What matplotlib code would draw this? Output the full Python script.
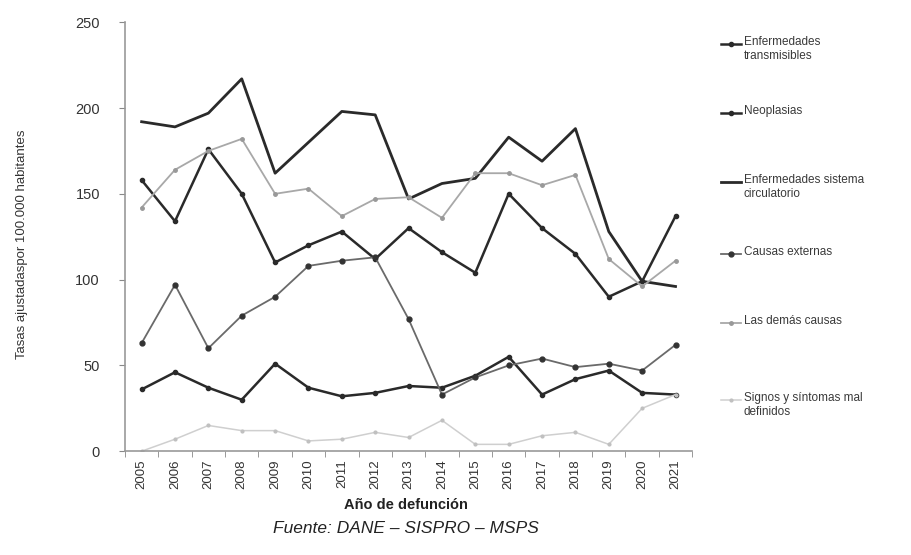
import matplotlib.pyplot as plt
from matplotlib.lines import Line2D

plt.rcParams["font.family"] = ["Liberation Sans", "DejaVu Sans"]

years = [str(y) for y in range(2005, 2022)]

transmisibles = [36, 46, 37, 30, 51, 37, 32, 34, 38, 37, 44, 55, 33, 42, 47, 34, 33]
neoplasias = [158, 134, 176, 150, 110, 120, 128, 112, 130, 116, 104, 150, 130, 115, 90, 99, 137]
circulatorio = [192, 189, 197, 217, 162, 180, 198, 196, 147, 156, 159, 183, 169, 188, 128, 99, 96]
externas = [63, 97, 60, 79, 90, 108, 111, 113, 77, 33, 43, 50, 54, 49, 51, 47, 62]
demas = [142, 164, 175, 182, 150, 153, 137, 147, 148, 136, 162, 162, 155, 161, 112, 96, 111]
signos = [0, 7, 15, 12, 12, 6, 7, 11, 8, 18, 4, 4, 9, 11, 4, 25, 33]

labels = [
    "Enfermedades\ntransmisibles",
    "Neoplasias",
    "Enfermedades sistema\ncirculatorio",
    "Causas externas",
    "Las demás causas",
    "Signos y síntomas mal\ndefinidos",
]

# (color, linewidth, marker, markersize, marker color)
styles = [
    ("#2a2a2a", 1.8, "o", 3, "#2a2a2a"),
    ("#2a2a2a", 1.8, "o", 3, "#2a2a2a"),
    ("#2a2a2a", 2.0, None, 0, "#2a2a2a"),
    ("#6a6a6a", 1.3, "o", 3.5, "#333333"),
    ("#a8a8a8", 1.3, "o", 2.5, "#999999"),
    ("#cfcfcf", 1.1, "o", 2, "#c0c0c0"),
]
series = [transmisibles, neoplasias, circulatorio, externas, demas, signos]

fig = plt.figure(figsize=(9.12, 5.55), dpi=100)
ax = fig.add_axes([0.137, 0.187, 0.622, 0.773])

x = list(range(len(years)))
for vals, (c, lw, m, ms, mc) in zip(series, styles):
    ax.plot(x, vals, color=c, linewidth=lw, marker=m, markersize=ms,
            markerfacecolor=mc, markeredgecolor=mc)

ax.set_xlim(-0.5, len(years) - 0.5)
ax.set_ylim(0, 250)
ax.set_yticks(range(0, 251, 50))
ax.set_xticks(x)
ax.set_xticklabels(years, rotation=90, fontsize=9.5, color="#333333")
ax.set_xticks([i - 0.5 for i in range(len(years) + 1)], minor=True)
ax.tick_params(axis="x", which="major", length=0, pad=6)
ax.tick_params(axis="x", which="minor", length=4, color="#888888", direction="out")
ax.tick_params(axis="y", length=4, color="#888888", labelsize=10.5, labelcolor="#333333", pad=14)

for side in ["top", "right"]:
    ax.spines[side].set_visible(False)
for side in ["left", "bottom"]:
    ax.spines[side].set_color("#999999")
    ax.spines[side].set_linewidth(1.2)

fig.text(0.024, 0.56, "Tasas ajustadaspor 100.000 habitantes", rotation=90,
         ha="center", va="center", fontsize=9.5, color="#333333")
fig.text(0.445, 0.09, "Año de defunción", ha="center", va="center",
         fontsize=10.5, fontweight="bold", color="#222222")
fig.text(0.445, 0.048, "Fuente: DANE – SISPRO – MSPS", ha="center", va="center",
         fontsize=12.5, fontstyle="italic", color="#222222")

# legend drawn on the right side, handle aligned with first text line
leg_y = [44, 113, 182, 254, 323, 400]
for lab, yp, (c, lw, m, ms, mc) in zip(labels, leg_y, styles):
    yf = 1 - yp / 555
    fig.add_artist(Line2D([721 / 912, 731 / 912, 741 / 912], [yf, yf, yf], color=c,
                          linewidth=lw, marker=m, markersize=ms,
                          markevery=[1] if m else None,
                          markerfacecolor=mc, markeredgecolor=mc))
    fig.text(744 / 912, yf + 8 / 555, lab, ha="left", va="top", fontsize=8.5,
             color="#3a3a3a", linespacing=1.2)

fig.savefig("out.png", dpi=100)
